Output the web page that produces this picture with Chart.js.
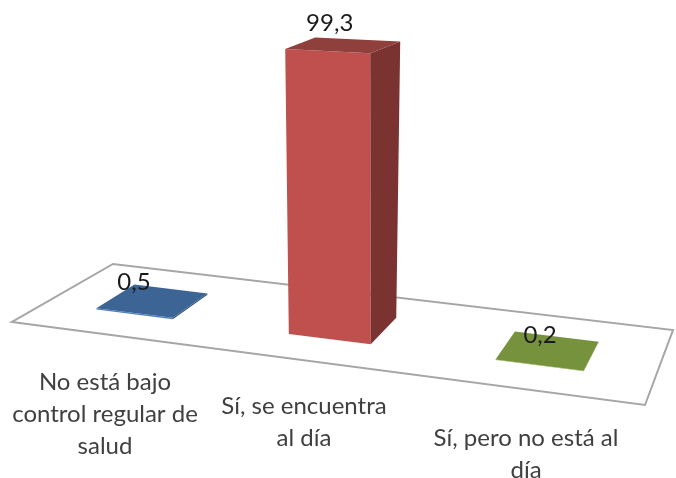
<!DOCTYPE html>
<html>
<head>
<meta charset="utf-8">
<style>
  html, body { margin: 0; padding: 0; background: #fff; }
  canvas { display: block; }
</style>
<script src="https://cdn.jsdelivr.net/npm/chart.js@4/dist/chart.umd.min.js"></script>
</head>
<body>
<canvas id="barChart" width="676" height="478"></canvas>
<script>
const categorias = [
  ['No está bajo', 'control regular de', 'salud'],
  ['Sí, se encuentra', 'al día'],
  ['Sí, pero no está al', 'día']
];
const valores = [0.5, 99.3, 0.2];
const etiquetas = ['0,5', '99,3', '0,2'];

const coresFrente = ['#4f81bd', '#c0504d', '#9bbb59'];
const coresTopo = ['#3c6494', '#8f3f3c', '#76923c'];
const coresLado = ['#2f4f76', '#7b3331', '#5e7530'];

// corners of the floor and of the plane at y = 100: front-left, front-right, back-right, back-left
const cantosChao = [[12, 322], [645, 405], [673, 330], [113, 264]];
const cantosTeto = [[-6, 43], [624, 73], [699, 44], [69, 14]];
const profundidade = [0.3, 0.7];
const deslocaU = -0.006;
const posEtiqueta = [[-19, -18], [-13, -22], [-8, -15]];
const posCategoria = [[105, 382], [304, 406], [526, 438]];
const alturaLinha = 32;

function homografia(c) {
  const dx1 = c[1][0] - c[2][0], dx2 = c[3][0] - c[2][0], sx = c[0][0] - c[1][0] + c[2][0] - c[3][0];
  const dy1 = c[1][1] - c[2][1], dy2 = c[3][1] - c[2][1], sy = c[0][1] - c[1][1] + c[2][1] - c[3][1];
  const det = dx1 * dy2 - dy1 * dx2;
  const g = (sx * dy2 - sy * dx2) / det;
  const h = (dx1 * sy - dy1 * sx) / det;
  const a = c[1][0] - c[0][0] + g * c[1][0], b = c[3][0] - c[0][0] + h * c[3][0];
  const d = c[1][1] - c[0][1] + g * c[1][1], e = c[3][1] - c[0][1] + h * c[3][1];
  return (u, v) => {
    const w = g * u + h * v + 1;
    return [(a * u + b * v + c[0][0]) / w, (d * u + e * v + c[0][1]) / w];
  };
}

const chao = homografia(cantosChao);
const teto = homografia(cantosTeto);

function projeta(u, v, alt) {
  const p = chao(u, v), q = teto(u, v);
  return [p[0] + (q[0] - p[0]) * alt, p[1] + (q[1] - p[1]) * alt];
}

function poligono(ctx, pts, cor) {
  ctx.beginPath();
  pts.forEach((p, i) => i ? ctx.lineTo(p[0], p[1]) : ctx.moveTo(p[0], p[1]));
  ctx.closePath();
  ctx.fillStyle = cor;
  ctx.fill();
}

const perspectiva = {
  id: 'perspectiva',
  beforeDatasetsDraw(chart) {
    const ctx = chart.ctx;
    const area = chart.chartArea;
    const barras = chart.getDatasetMeta(0).data;

    ctx.save();
    ctx.beginPath();
    cantosChao.forEach((p, i) => i ? ctx.lineTo(p[0], p[1]) : ctx.moveTo(p[0], p[1]));
    ctx.closePath();
    ctx.strokeStyle = '#a6a6a6';
    ctx.lineWidth = 2;
    ctx.stroke();

    barras.forEach((bar, i) => {
      const u0 = (bar.x - bar.width / 2 - area.left) / area.width + deslocaU;
      const u1 = (bar.x + bar.width / 2 - area.left) / area.width + deslocaU;
      const alt = (bar.base - bar.y) / area.height;
      const [v0, v1] = profundidade;

      poligono(ctx, [projeta(u0, v0, 0), projeta(u1, v0, 0), projeta(u1, v0, alt), projeta(u0, v0, alt)], coresFrente[i]);
      poligono(ctx, [projeta(u1, v0, 0), projeta(u1, v1, 0), projeta(u1, v1, alt), projeta(u1, v0, alt)], coresLado[i]);
      poligono(ctx, [projeta(u0, v0, alt), projeta(u1, v0, alt), projeta(u1, v1, alt), projeta(u0, v1, alt)], coresTopo[i]);

      const c = projeta((u0 + u1) / 2, (v0 + v1) / 2, alt);
      ctx.fillStyle = '#1a1a1a';
      ctx.font = '24px Lato';
      ctx.textAlign = 'center';
      ctx.textBaseline = 'middle';
      ctx.fillText(etiquetas[i], c[0] + posEtiqueta[i][0], c[1] + posEtiqueta[i][1]);

      ctx.fillStyle = '#404040';
      chart.scales.x.getLabels()[i].forEach((linha, n) => {
        ctx.fillText(linha, posCategoria[i][0], posCategoria[i][1] + n * alturaLinha);
      });
    });
    ctx.restore();
    return false;
  }
};

let graficoBarras = new Chart(document.getElementById('barChart').getContext('2d'), {
  type: 'bar',
  data: {
    labels: categorias,
    datasets: [{
      data: valores,
      backgroundColor: coresFrente,
      barPercentage: 0.405,
      categoryPercentage: 1
    }]
  },
  options: {
    responsive: false,
    animation: false,
    layout: { padding: 0 },
    plugins: { legend: { display: false }, tooltip: { enabled: false } },
    scales: {
      x: { display: false },
      y: { display: false, min: 0, max: 100 }
    }
  },
  plugins: [perspectiva]
});
</script>
</body>
</html>
